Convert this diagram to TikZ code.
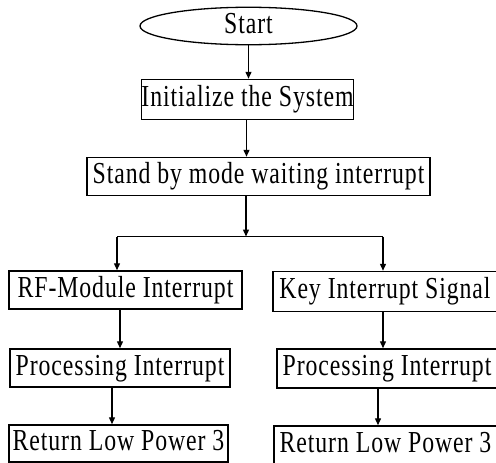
\documentclass[tikz,border=0pt]{standalone}
\usepackage{fontspec}
\setmainfont{Liberation Serif}[FakeStretch=0.78,LetterSpace=3]
\usetikzlibrary{arrows.meta,shapes.geometric}
\begin{document}
\begin{tikzpicture}[x=1pt,y=-1pt,
  txt/.style={font=\fontsize{30.5}{34}\selectfont,text height=20.5pt,text depth=6pt},
  box/.style={draw,line width=1.5pt,inner sep=0pt,txt},
  oval/.style={ellipse,draw,line width=1.3pt,inner sep=0pt,txt},
  arr/.style={line width=1.4pt,-{Triangle[length=7pt,width=6pt]}},
  ln/.style={line width=1.4pt}]
\useasboundingbox (0,0) rectangle (496,463);
\node[oval,minimum width=217pt,minimum height=32pt] (start) at (248.5,26) {Start};
\node[box,minimum width=211pt,minimum height=40pt] (init) at (247.5,99.5) {Initialize the System};
\node[box,minimum width=343pt,minimum height=38pt] (stand) at (258.5,176.5) {Stand by mode waiting interrupt};
\node[box,minimum width=233pt,minimum height=38pt] (rf) at (125.5,290) {RF-Module Interrupt};
\node[box,minimum width=224pt,minimum height=40pt] (key) at (385,291.5) {Key Interrupt Signal};
\node[box,minimum width=220pt,minimum height=38pt] (procL) at (120,368) {Processing Interrupt};
\node[box,minimum width=220pt,minimum height=39pt] (procR) at (387,368.5) {Processing Interrupt};
\node[box,minimum width=219pt,minimum height=37pt] (retL) at (118.5,443.5) {Return Low Power 3};
\node[box,minimum width=223pt,minimum height=38pt] (retR) at (385.5,445) {Return Low Power 3};
\coordinate (xa) at (246.5,0);
\coordinate (j) at (246,236.5);
\coordinate (xl) at (117,0);
\coordinate (xr) at (383,0);
\coordinate (xl2) at (112,0);
\coordinate (xr2) at (378,0);
\draw[arr] (start.south) -- (start.south |- init.north);
\draw[arr] (init.south -| xa) -- (stand.north -| xa);
\draw[arr] (stand.south -| j) -- (j);
\draw[ln] (j -| xl) -- (j -| xr);
\draw[arr] (j -| xl) -- (rf.north -| xl);
\draw[arr] (j -| xr) -- (key.north -| xr);
\draw[arr] (rf.south -| procL.north) -- (procL.north);
\draw[arr] (procL.south -| xl2) -- (retL.north -| xl2);
\draw[arr] (key.south -| xr) -- (procR.north -| xr);
\draw[arr] (procR.south -| xr2) -- (retR.north -| xr2);
\end{tikzpicture}
\end{document}
